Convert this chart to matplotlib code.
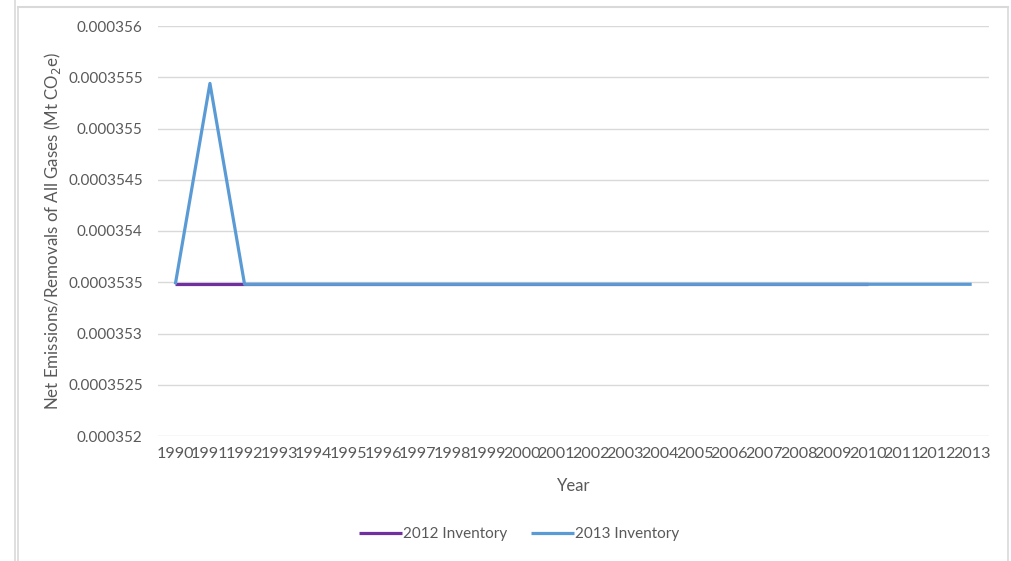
import matplotlib.pyplot as plt
from matplotlib.lines import Line2D
from matplotlib.ticker import FixedLocator, FuncFormatter
import numpy as np

years = [str(y) for y in range(1990, 2014)]
inv_2012 = [0.00035348] * 21  # 1990-2010, hidden under the 2013 series after 1992
inv_2013 = [0.00035348, 0.00035544] + [0.00035348] * 22
y_ticks = [0.000352, 0.0003525, 0.000353, 0.0003535, 0.000354,
           0.0003545, 0.000355, 0.0003555, 0.000356]

plt.rcParams["font.family"] = ["Lato", "DejaVu Sans"]
text_color = "#595959"
grid_color = "#D9D9D9"

fig = plt.figure(figsize=(10.11, 5.61), dpi=100)
ax = fig.add_axes([158 / 1011, 1 - 436 / 561, (989 - 158) / 1011, (436 - 26) / 561])

x = np.arange(len(years))
ax.plot(x[:len(inv_2012)], inv_2012, color="#7030A0", lw=2.3,
        label="2012 Inventory", solid_capstyle="butt")
ax.plot(x, inv_2013, color="#5B9BD5", lw=2.3,
        label="2013 Inventory", solid_capstyle="butt")

ax.set_xlim(-0.5, len(years) - 0.5)
ax.set_ylim(y_ticks[0], y_ticks[-1])
ax.set_xticks(x)
ax.set_xticklabels(years)
ax.yaxis.set_major_locator(FixedLocator(y_ticks))
ax.yaxis.set_major_formatter(FuncFormatter(lambda v, p: "%g" % v))
ax.tick_params(axis="both", length=0, colors=text_color)
ax.tick_params(axis="y", pad=11, labelsize=11)
ax.tick_params(axis="x", pad=8, labelsize=11.6)
ax.grid(axis="y", color=grid_color, lw=1)
ax.set_axisbelow(True)
for s in ax.spines.values():
    s.set_visible(False)

ax.set_xlabel("Year", fontsize=12, color=text_color, labelpad=12)
ax.set_ylabel("Net Emissions/Removals of All Gases (Mt CO$_2$e)",
              fontsize=12.2, color=text_color, labelpad=4)

leg = fig.legend(loc="center", bbox_to_anchor=(519 / 1011, 1 - 534 / 561),
                 ncol=2, frameon=False, fontsize=11, handlelength=2.8,
                 handletextpad=0.05, columnspacing=1.6)
for t in leg.get_texts():
    t.set_color(text_color)

# chart frame lines
fig.add_artist(Line2D([15 / 1011, 15 / 1011], [0, 1], color=grid_color, lw=1.2))
fig.add_artist(Line2D([18 / 1011, 18 / 1011], [0, 1 - 7 / 561], color=grid_color, lw=1.2))
fig.add_artist(Line2D([18 / 1011, 1008 / 1011], [1 - 7 / 561, 1 - 7 / 561], color=grid_color, lw=1.5))
fig.add_artist(Line2D([1008 / 1011, 1008 / 1011], [0, 1 - 7 / 561], color=grid_color, lw=1.2))

fig.savefig("out.png", dpi=100)
